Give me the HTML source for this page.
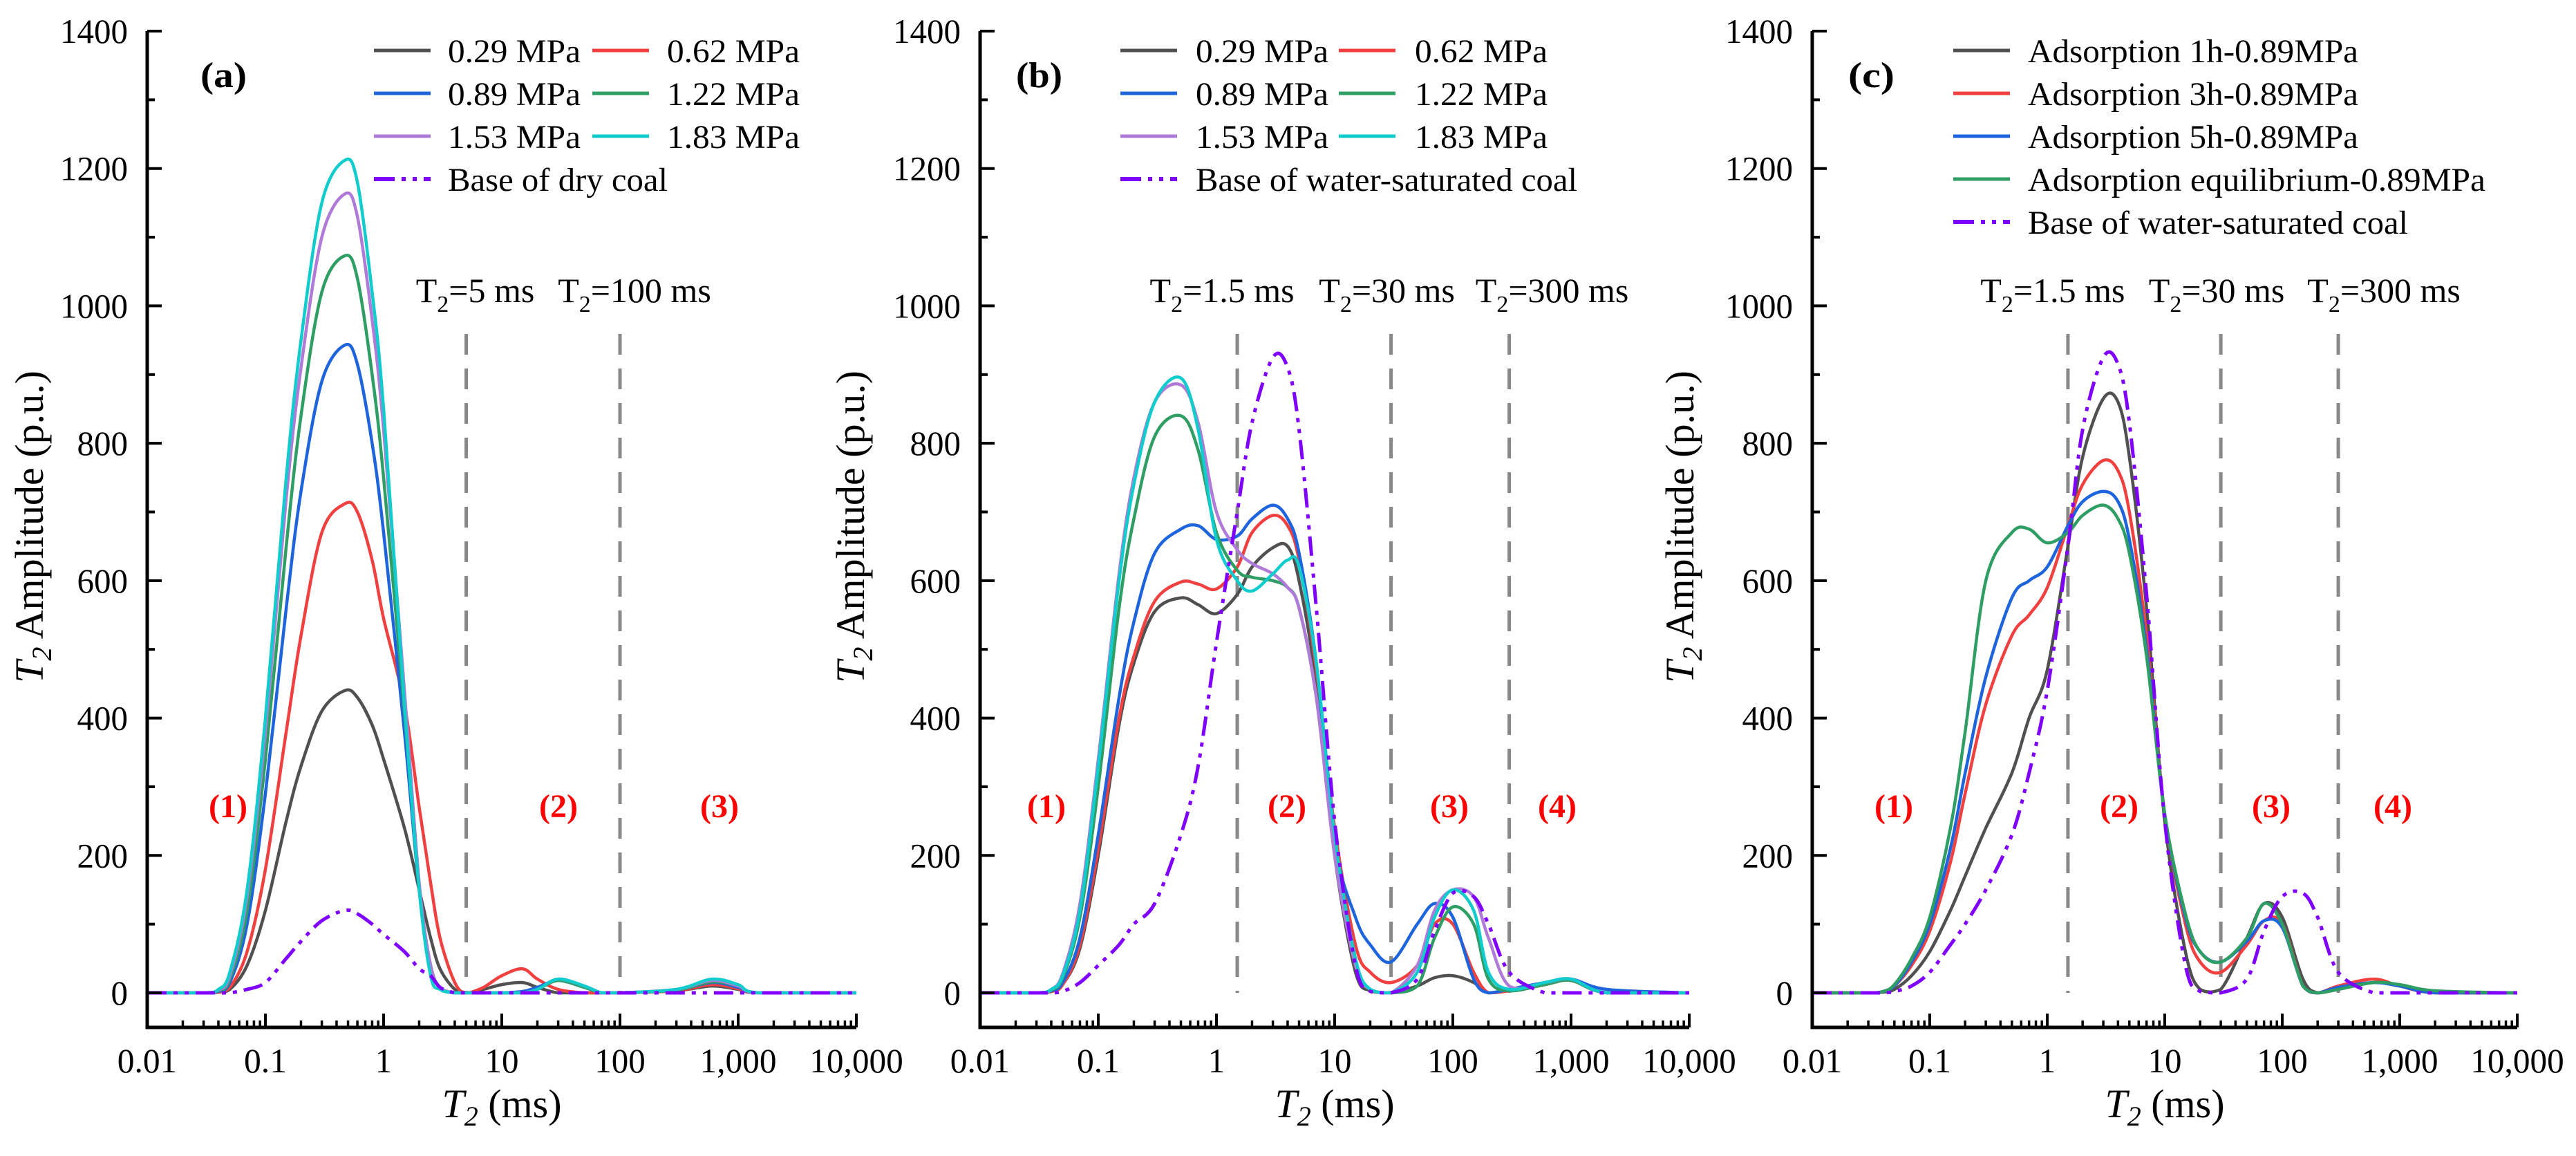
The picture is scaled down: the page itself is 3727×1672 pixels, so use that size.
<!DOCTYPE html>
<html><head><meta charset="utf-8"><style>
html,body{margin:0;padding:0;background:#fff;}
svg{display:block;font-family:"Liberation Serif",serif;}
</style></head><body>
<svg id="chart" xmlns="http://www.w3.org/2000/svg" width="3727" height="1672" viewBox="0 0 3727 1672"></svg>
<script>
// ---------- data ----------
const gridA = [0.01,0.03,0.04,0.05,0.07,0.1,0.15,0.2,0.3,0.47,0.6,0.8,1,1.5,2,2.5,3,4,5,7,10,15,20,30,50,70,100,300,600,1000,1500,10000];
const a029 = [0,0,1,5,40,120,250,330,410,440,430,390,340,240,150,80,35,5,0,5,12,15,8,0,0,0,0,3,10,5,0,0];
const a062 = [0,0,1,8,60,180,380,520,670,712,700,630,545,420,270,160,80,15,0,8,25,35,20,5,0,0,0,3,12,6,0,0];
const a089 = [0,0,2,15,100,290,560,730,890,943,915,800,670,380,150,40,8,0,0,0,0,2,8,18,8,0,0,4,15,8,0,0];
const a122 = [0,0,3,20,120,340,650,840,1020,1073,1040,900,750,410,150,40,8,0,0,0,0,0,5,18,8,0,0,4,16,10,0,0];
const a153 = [0,0,4,25,140,380,720,910,1100,1163,1130,980,820,440,160,40,8,0,0,0,0,0,5,20,10,0,0,5,18,10,0,0];
const a183 = [0,0,5,30,150,400,750,950,1150,1212,1180,1020,850,420,150,25,5,0,0,0,0,0,5,20,10,0,0,5,20,12,0,0];
const aBase = [0,0,0,0,5,15,50,75,105,120,115,100,85,60,35,25,8,0,0,0,0,0,0,0,0,0,0,0,0,0,0,0];

const gridB = [0.01,0.03,0.04,0.05,0.07,0.1,0.15,0.2,0.3,0.5,0.7,1,1.5,2,3,4,5,7,10,15,20,30,50,70,100,150,200,300,600,1000,2000,10000];
const b029 = [0,0,2,12,65,200,390,480,555,575,565,552,580,620,648,650,600,450,200,30,3,0,10,22,25,15,0,3,12,18,0,0];
const b062 = [0,0,2,12,70,210,400,490,570,598,595,588,620,670,695,680,630,470,240,70,30,15,40,100,100,30,0,3,12,18,0,0];
const b089 = [0,0,3,15,80,230,430,540,640,675,680,660,665,690,710,690,640,480,220,110,70,45,100,130,110,20,0,5,15,20,5,0];
const b122 = [0,0,4,22,110,300,560,690,810,840,790,670,615,605,600,590,560,430,210,45,5,0,10,80,125,100,20,3,12,18,0,0];
const b153 = [0,0,5,28,130,340,610,750,860,885,830,700,645,625,610,590,560,430,200,40,5,0,40,120,150,140,80,10,15,20,0,0];
const b183 = [0,0,5,25,120,330,600,740,860,895,820,660,600,585,610,630,620,480,230,50,5,0,30,110,150,120,30,5,15,20,0,0];
const bBase = [0,0,0,2,15,40,70,100,130,230,330,510,700,830,925,910,820,560,250,40,2,0,20,90,145,140,100,30,0,0,0,0];

const gridC = gridB;
const c1h = [0,0,1,5,25,60,120,170,240,320,400,470,650,780,865,860,780,560,250,60,5,5,80,130,110,20,0,5,15,10,0,0];
const c3h = [0,0,2,10,40,90,190,290,420,520,550,590,680,740,775,760,700,520,260,100,45,30,70,105,100,10,0,10,20,10,0,0];
const c5h = [0,0,2,10,45,100,210,320,460,575,600,620,680,715,730,715,660,500,260,110,60,45,75,105,95,10,0,8,15,10,0,0];
const cEq = [0,0,2,12,50,110,240,380,600,670,675,655,670,695,710,690,640,490,260,115,60,45,80,130,100,10,0,5,15,12,3,0];
const cBase = [0,0,0,2,10,30,70,100,150,230,320,440,650,820,925,915,830,580,250,40,2,0,20,90,140,145,110,30,0,0,0,0];

const xTickVals = [0.01,0.1,1,10,100,1000,10000];
const xTickLabels = ["0.01","0.1","1","10","100","1,000","10,000"];
const yTickVals = [0,200,400,600,800,1000,1200,1400];

const COL = {g:"#505050",r:"#f04040",b:"#1e64dc",gr:"#2e9e64",l:"#b07ad8",c:"#10cccc",p:"#8000ff"};
const NS="http://www.w3.org/2000/svg";
const svg=document.getElementById('chart');
function mk(tag,attrs,parent){const e=document.createElementNS(NS,tag);for(const k in attrs)e.setAttribute(k,attrs[k]);(parent||svg).appendChild(e);return e;}
function numW(s){let w=0;for(const ch of s){w+=(ch==='.'||ch===',')?13:24.5;}return w;}
function fit(t,w){t.setAttribute('textLength',w);t.setAttribute('lengthAdjust','spacingAndGlyphs');}

const Y0=1436, YK=(1436-45)/1400;
function yS(v){return Y0-v*YK;}

function smoothPath(pts){
  let d="M"+pts[0][0].toFixed(1)+","+pts[0][1].toFixed(1);
  for(let i=0;i<pts.length-1;i++){
    const p0=pts[Math.max(0,i-1)],p1=pts[i],p2=pts[i+1],p3=pts[Math.min(pts.length-1,i+2)];
    const c1x=p1[0]+(p2[0]-p0[0])/6,c1y=p1[1]+(p2[1]-p0[1])/6;
    const c2x=p2[0]-(p3[0]-p1[0])/6,c2y=p2[1]-(p3[1]-p1[1])/6;
    d+=" C"+c1x.toFixed(1)+","+Math.min(c1y,Y0).toFixed(1)+" "+c2x.toFixed(1)+","+Math.min(c2y,Y0).toFixed(1)+" "+p2[0].toFixed(1)+","+p2[1].toFixed(1);
  }
  return d;
}

function panel(cfg){
  const g=mk('g',{});
  
  
  const x0=cfg.x0,dec=cfg.dec;
  const xS=v=>x0+(Math.log10(v)+2)*dec;
  const xEnd=xS(10000);
  cfg.vlines.forEach((v,i)=>{
    const l=mk('line',{x1:xS(v),x2:xS(v),y1:483,y2:Y0,stroke:"#888",'stroke-width':5,'stroke-dasharray':"30 20"},g);
    
    
    const t=mk('text',{x:xS(v)+cfg.vdx[i],y:437,'font-size':50,'text-anchor':'middle',fill:'#000'},g);
    
    
    t.innerHTML='T<tspan font-size="34" dy="14">2</tspan><tspan dy="-14">='+cfg.vlabels[i]+'</tspan>';
  });
  cfg.regions.forEach((r,i)=>{
    const t=mk('text',{x:r,y:1182,'font-size':48,'font-weight':'bold',fill:'#ff0000','text-anchor':'middle'},g);
    
    
    t.textContent='('+(i+1)+')';
  });
  cfg.series.forEach(s=>{
    const pts=cfg.grid.map((x,i)=>[xS(x),yS(s.v[i])]);
    const attrs={d:smoothPath(pts),fill:'none',stroke:s.c,'stroke-width':s.dash?5:4.5,'stroke-linejoin':'round'};
    if(s.dash)attrs['stroke-dasharray']="28 10 6 10 6 10";
    const p=mk('path',attrs,g);
    
    
  });
  const ax=mk('path',{d:`M${x0},45 L${x0},1486 L${xEnd},1486`,fill:'none',stroke:'#000','stroke-width':5},g);
  
  
  yTickVals.forEach(v=>{
    mk('line',{x1:x0,x2:x0+21,y1:yS(v),y2:yS(v),stroke:'#000','stroke-width':4},g);
    if(v<1400)mk('line',{x1:x0,x2:x0+11,y1:yS(v+100),y2:yS(v+100),stroke:'#000','stroke-width':4},g);
    const t=mk('text',{x:x0-28,y:yS(v)+17,'font-size':50,'text-anchor':'end',fill:'#000'},g);
    
    
    t.textContent=String(v);
    fit(t,numW(String(v)));
  });
  xTickVals.forEach((v,i)=>{
    mk('line',{x1:xS(v),x2:xS(v),y1:1486,y2:1466,stroke:'#000','stroke-width':4},g);
    if(i<xTickVals.length-1)for(let m=2;m<10;m++){mk('line',{x1:xS(v*m),x2:xS(v*m),y1:1486,y2:1476,stroke:'#000','stroke-width':3.5},g);}
    const t=mk('text',{x:xS(v),y:1551,'font-size':50,'text-anchor':'middle',fill:'#000'},g);
    
    
    t.textContent=xTickLabels[i];
    fit(t,numW(xTickLabels[i]));
  });
  const xt=mk('text',{x:(x0+xEnd)/2,y:1616,'font-size':58,'text-anchor':'middle',fill:'#000'},g);
  
  
  xt.innerHTML='<tspan font-style="italic">T</tspan><tspan font-size="40" font-style="italic" dy="12">2</tspan><tspan dy="-12"> (ms)</tspan>';
  const yt=mk('text',{x:0,y:0,'font-size':58,'text-anchor':'middle',fill:'#000',transform:`translate(${cfg.ytx},762) rotate(-90)`},g);
  
  
  yt.innerHTML='<tspan font-style="italic">T</tspan><tspan font-size="40" font-style="italic" dy="12">2</tspan><tspan dy="-12"> Amplitude (p.u.)</tspan>';
  const pl=mk('text',{x:cfg.plx,y:126,'font-size':52,'font-weight':'bold',fill:'#000'},g);
  
  
  pl.textContent=cfg.label;
  fit(pl,67);
  cfg.legend.forEach(e=>{
    const lg=mk('g',{},g);
    
    
    const la={x1:e.lx,x2:e.lx+82,y1:e.y,y2:e.y,stroke:e.c,'stroke-width':e.dash?6:5};
    if(e.dash)la['stroke-dasharray']="30 10 6 10 6 10";
    mk('line',la,lg);
    const t=mk('text',{x:e.tx,y:e.y+17,'font-size':48,fill:'#000'},lg);
    t.textContent=e.t;
    fit(t,e.w);
  });
}

const rows=[73,135,197,259,321];
panel({name:'panel-a',x0:213,dec:171,grid:gridA,label:'(a)',plx:290,ytx:62,
  vlines:[5,100],vlabels:['5 ms','100 ms'],vdx:[13,21],regions:[330,808,1041],
  series:[{id:'0.29MPa',v:a029,c:COL.g},{id:'0.62MPa',v:a062,c:COL.r},{id:'0.89MPa',v:a089,c:COL.b},{id:'1.22MPa',v:a122,c:COL.gr},{id:'1.53MPa',v:a153,c:COL.l},{id:'1.83MPa',v:a183,c:COL.c},{id:'dry-base',v:aBase,c:COL.p,dash:1}],
  legend:[{lx:541,tx:648,y:rows[0],c:COL.g,t:'0.29 MPa',w:192},{lx:857,tx:965,y:rows[0],c:COL.r,t:'0.62 MPa',w:192},
    {lx:541,tx:648,y:rows[1],c:COL.b,t:'0.89 MPa',w:192},{lx:857,tx:965,y:rows[1],c:COL.gr,t:'1.22 MPa',w:192},
    {lx:541,tx:648,y:rows[2],c:COL.l,t:'1.53 MPa',w:192},{lx:857,tx:965,y:rows[2],c:COL.c,t:'1.83 MPa',w:192},
    {lx:541,tx:648,y:rows[3],c:COL.p,t:'Base of dry coal',dash:1,w:318}]});
panel({name:'panel-b',x0:1418,dec:171,grid:gridB,label:'(b)',plx:1470,ytx:1250,
  vlines:[1.5,30,300],vlabels:['1.5 ms','30 ms','300 ms'],vdx:[-22,-6,62],regions:[1514,1862,2097,2253],
  series:[{id:'0.29MPa',v:b029,c:COL.g},{id:'0.62MPa',v:b062,c:COL.r},{id:'0.89MPa',v:b089,c:COL.b},{id:'1.22MPa',v:b122,c:COL.gr},{id:'1.53MPa',v:b153,c:COL.l},{id:'1.83MPa',v:b183,c:COL.c},{id:'water-base',v:bBase,c:COL.p,dash:1}],
  legend:[{lx:1621,tx:1730,y:rows[0],c:COL.g,t:'0.29 MPa',w:192},{lx:1937,tx:2047,y:rows[0],c:COL.r,t:'0.62 MPa',w:192},
    {lx:1621,tx:1730,y:rows[1],c:COL.b,t:'0.89 MPa',w:192},{lx:1937,tx:2047,y:rows[1],c:COL.gr,t:'1.22 MPa',w:192},
    {lx:1621,tx:1730,y:rows[2],c:COL.l,t:'1.53 MPa',w:192},{lx:1937,tx:2047,y:rows[2],c:COL.c,t:'1.83 MPa',w:192},
    {lx:1621,tx:1730,y:rows[3],c:COL.p,t:'Base of water-saturated coal',dash:1,w:552}]});
panel({name:'panel-c',x0:2622,dec:170,grid:gridC,label:'(c)',plx:2674,ytx:2450,
  vlines:[1.5,30,300],vlabels:['1.5 ms','30 ms','300 ms'],vdx:[-22,-6,66],regions:[2740,3066,3286,3462],
  series:[{id:'1h',v:c1h,c:COL.g},{id:'3h',v:c3h,c:COL.r},{id:'5h',v:c5h,c:COL.b},{id:'equilibrium',v:cEq,c:COL.gr},{id:'water-base',v:cBase,c:COL.p,dash:1}],
  legend:[{lx:2826,tx:2934,y:rows[0],c:COL.g,t:'Adsorption 1h-0.89MPa',w:478},
    {lx:2826,tx:2934,y:rows[1],c:COL.r,t:'Adsorption 3h-0.89MPa',w:478},
    {lx:2826,tx:2934,y:rows[2],c:COL.b,t:'Adsorption 5h-0.89MPa',w:478},
    {lx:2826,tx:2934,y:rows[3],c:COL.gr,t:'Adsorption equilibrium-0.89MPa',w:662},
    {lx:2826,tx:2934,y:rows[4],c:COL.p,t:'Base of water-saturated coal',dash:1,w:550}]});
</script>
</body></html>
